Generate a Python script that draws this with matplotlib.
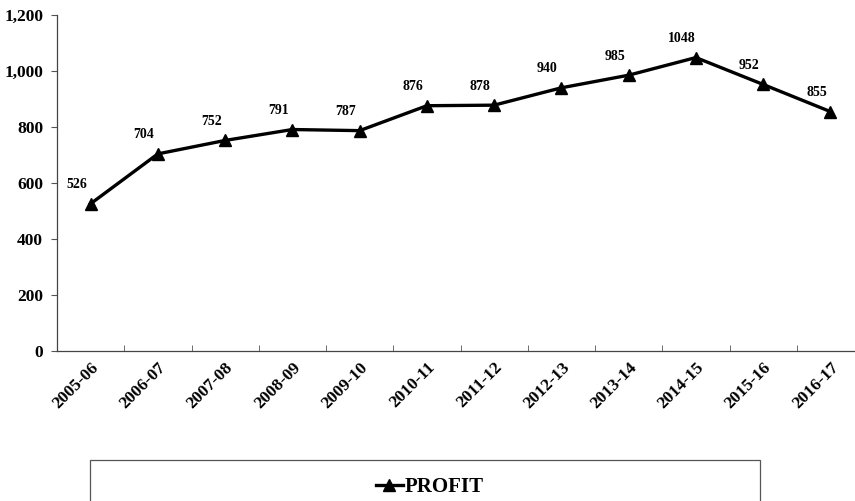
import matplotlib.pyplot as plt
from matplotlib.patches import Rectangle

years = ['2005-06', '2006-07', '2007-08', '2008-09', '2009-10', '2010-11',
         '2011-12', '2012-13', '2013-14', '2014-15', '2015-16', '2016-17']
profit = [526, 704, 752, 791, 787, 876, 878, 940, 985, 1048, 952, 855]

plt.rcParams['font.family'] = ['Liberation Serif', 'DejaVu Serif']
plt.rcParams['font.weight'] = 'bold'

fig = plt.figure(figsize=(8.55, 5.01), dpi=100)
ax = fig.add_axes([57 / 855, 1 - 351 / 501, 807 / 855, 336 / 501])

x = list(range(len(years)))
line, = ax.plot(x, profit, color='black', linewidth=2.4, marker='^',
                markersize=8, label='PROFIT')

for xi, v in zip(x, profit):
    ax.annotate(str(v), (xi, v), xytext=(-10, 9), textcoords='offset points',
                ha='center', va='bottom', fontsize=10, fontweight='bold')

ax.set_xlim(-0.5, len(years) - 0.5)
ax.set_ylim(0, 1200)
ax.set_yticks(range(0, 1201, 200))
ax.set_yticklabels([f'{v:,}' for v in range(0, 1201, 200)], fontsize=12.5,
                   fontweight='bold')
ax.set_xticks(x)
ax.set_xticklabels(years, rotation=45, ha='right', rotation_mode='anchor',
                   fontsize=12.5, fontweight='bold')
ax.tick_params(axis='x', length=0, pad=6)
ax.set_xticks([i + 0.5 for i in x[:-1]], minor=True)
ax.tick_params(axis='x', which='minor', length=4, direction='in', color='#555555')
ax.tick_params(axis='y', length=4, direction='out', color='#555555', pad=6)

for s in ['top', 'right']:
    ax.spines[s].set_visible(False)
for s in ['left', 'bottom']:
    ax.spines[s].set_color('#444444')
    ax.spines[s].set_linewidth(0.9)

fig.patches.append(Rectangle((90 / 855, -0.1), 670 / 855, 0.1 + 41 / 501,
                             transform=fig.transFigure, fill=False,
                             edgecolor='#555555', linewidth=0.9))
fig.legend(handles=[line], loc='center', bbox_to_anchor=(430 / 855, 1 - 487 / 501),
           frameon=False, prop={'size': 15, 'weight': 'bold'},
           handlelength=1.3, handletextpad=0.1)

fig.savefig('out.png', dpi=100)
